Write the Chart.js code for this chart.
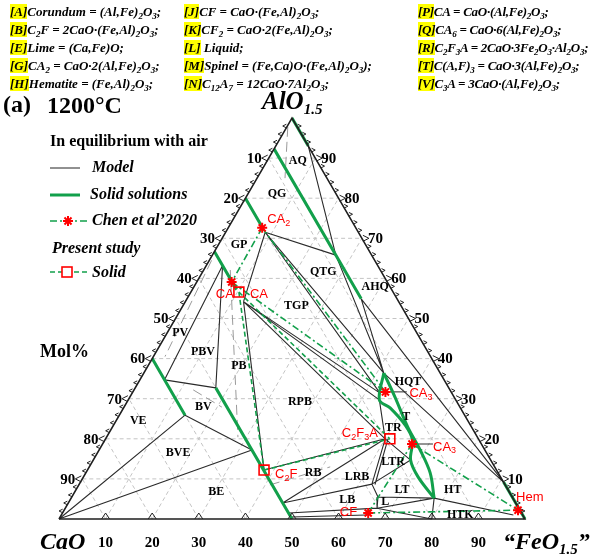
<!DOCTYPE html>
<html><head><meta charset="utf-8">
<script src="https://cdn.jsdelivr.net/npm/chart.js@4/dist/chart.umd.min.js"></script>
<style>
html,body{margin:0;padding:0;background:#fff;}
#wrap{position:relative;width:591px;height:556px;overflow:hidden;background:#fff;}
canvas{position:absolute;left:0;top:0;}
.hdr{position:absolute;font:italic bold 13px "Liberation Serif",serif;white-space:nowrap;color:#000;line-height:16px;}
.hdr.c3{letter-spacing:-0.25px;}
.hdr b{background:#ffff00;}
.hdr sub{font-size:9px;vertical-align:-3px;line-height:0;}
</style></head><body>
<div id="wrap">
<canvas id="c" width="591" height="556"></canvas>
<div class="hdr" style="left:10px;top:4px"><b>[A]</b>Corundum = (Al,Fe)<sub>2</sub>O<sub>3</sub>;</div>
<div class="hdr" style="left:10px;top:22px"><b>[B]</b>C<sub>2</sub>F = 2CaO·(Fe,Al)<sub>2</sub>O<sub>3</sub>;</div>
<div class="hdr" style="left:10px;top:40px"><b>[E]</b>Lime = (Ca,Fe)O;</div>
<div class="hdr" style="left:10px;top:58px"><b>[G]</b>CA<sub>2</sub> = CaO·2(Al,Fe)<sub>2</sub>O<sub>3</sub>;</div>
<div class="hdr" style="left:10px;top:76px"><b>[H]</b>Hematite = (Fe,Al)<sub>2</sub>O<sub>3</sub>;</div>
<div class="hdr" style="left:184px;top:4px"><b>[J]</b>CF = CaO·(Fe,Al)<sub>2</sub>O<sub>3</sub>;</div>
<div class="hdr" style="left:184px;top:22px"><b>[K]</b>CF<sub>2</sub> = CaO·2(Fe,Al)<sub>2</sub>O<sub>3</sub>;</div>
<div class="hdr" style="left:184px;top:40px"><b>[L]</b> Liquid;</div>
<div class="hdr" style="left:184px;top:58px"><b>[M]</b>Spinel = (Fe,Ca)O·(Fe,Al)<sub>2</sub>O<sub>3</sub>);</div>
<div class="hdr" style="left:184px;top:76px"><b>[N]</b>C<sub>12</sub>A<sub>7</sub> = 12CaO·7Al<sub>2</sub>O<sub>3</sub>;</div>
<div class="hdr c3" style="left:418px;top:4px"><b>[P]</b>CA = CaO·(Al,Fe)<sub>2</sub>O<sub>3</sub>;</div>
<div class="hdr c3" style="left:418px;top:22px"><b>[Q]</b>CA<sub>6</sub> = CaO·6(Al,Fe)<sub>2</sub>O<sub>3</sub>;</div>
<div class="hdr c3" style="left:418px;top:40px"><b>[R]</b>C<sub>2</sub>F<sub>3</sub>A = 2CaO·3Fe<sub>2</sub>O<sub>3</sub>·Al<sub>2</sub>O<sub>3</sub>;</div>
<div class="hdr c3" style="left:418px;top:58px"><b>[T]</b>C(A,F)<sub>3</sub> = CaO·3(Al,Fe)<sub>2</sub>O<sub>3</sub>;</div>
<div class="hdr c3" style="left:418px;top:76px"><b>[V]</b>C<sub>3</sub>A = 3CaO·(Al,Fe)<sub>2</sub>O<sub>3</sub>;</div>
</div>
<script>
// Compositions are given as [FeO1.5 mol%, AlO1.5 mol%]; CaO is the remainder.
const steps = [10, 20, 30, 40, 50, 60, 70, 80, 90];
const tickText = ['10', '20', '30', '40', '50', '60', '70', '80', '90'];

// Solid-solution ranges
const corundumSS = [[0, 100], [7, 93]];
const ca6SS = [[0, 92.3], [37.4, 54.9]];
const ca2SS = [[0, 80], [7.5, 72.5]];
const caSS = [[0, 66.7], [9.5, 57.2]];
const c3aSS = [[0, 40], [14.1, 25.9]];
const c2fSS = [[17.3, 32.7], [50, 0]];
const hematiteSS = [[90.8, 9.2], [100, 0]];
const tOuter = [[51.5, 36.4], [56.9, 30.4], [63.4, 22.9], [68.9, 17.2], [73.9, 11.5], [77.9, 5.2]];
const tInner = [[51.5, 36.4], [53.9, 29.7], [57.2, 27.7], [62.6, 23.4], [66.0, 19.7], [68.1, 14.7], [71.8, 10.5], [77.9, 5.2]];

// Calculated phase boundaries (model)
const modelLines = [
  [[7, 93], [26.5, 65.8]],
  [[8.5, 71.5], [26.5, 65.8]],
  [[26.5, 65.8], [51.5, 36.4]],
  [[37.4, 54.9], [51.5, 36.4]],
  [[37.4, 54.9], [90.8, 9.2]],
  [[51.5, 36.4], [90.8, 9.2]],
  [[8.5, 71.5], [51.5, 36.4]],
  [[8.5, 71.5], [53.4, 31.2]],
  [[8.5, 71.5], [12.5, 54.2]],
  [[12.5, 54.2], [53.2, 31.4]],
  [[12.5, 54.2], [53.9, 29.7]],
  [[12.5, 54.2], [60, 20]],
  [[60, 20], [53.9, 29.7]],
  [[60, 20], [68.1, 14.7]],
  [[3.5, 63.2], [5.3, 34.7]],
  [[3.5, 63.2], [17.3, 32.7]],
  [[5.3, 34.7], [17.3, 32.7]],
  [[14.1, 25.9], [32.8, 17.2]],
  [[0, 0], [14.1, 25.9]],
  [[0, 0], [32.8, 17.2]],
  [[12.5, 54.2], [37.9, 12.2]],
  [[37.9, 12.2], [60, 20]],
  [[46, 4], [60, 20]],
  [[46, 4], [62.8, 8.7]],
  [[60, 20], [62.8, 8.7]],
  [[60.6, 20], [63.5, 8.6]],
  [[62.8, 8.7], [65.7, 5.5], [66.9, 2.7]],
  [[48.5, 1.5], [66.9, 2.7]],
  [[49.5, 0.5], [65.5, 1.0]],
  [[62.8, 8.7], [68.1, 14.7]],
  [[65.7, 5.5], [77.9, 5.2]],
  [[66.9, 2.7], [80, 0]],
  [[66.9, 2.7], [77.9, 5.2]],
  [[77.9, 5.2], [80, 0]],
  [[77.9, 5.2], [97, 1]]
];
const earlierLines = [
  [[0.2, 97.8], [6, 85]],
  [[0.5, 64.5], [2.5, 40.5]],
  [[5.7, 62.1], [28.2, 20.4]],
  [[12.7, 32.2], [21, 27.9]],
  [[41, 8.5], [51.7, 13]]
];
const labelLeaders = [
  [[54.2, 31.7], [58.8, 31.7]],
  [[66.4, 18.7], [70.9, 18.7]]
];

// Chen et al. 2020: measured phases and tie-lines
const chenPoints = [[7.3, 72.6], [7.5, 59.1], [54.2, 31.7], [66.4, 18.7], [65.6, 1.5], [97.4, 2.2]];
const chenTies = [
  [[7.3, 72.6], [7.5, 59.1]],
  [[7.3, 72.6], [54.2, 31.7]],
  [[7.5, 59.1], [54.2, 31.7]],
  [[66.4, 18.7], [97.4, 2.2]],
  [[65.6, 1.5], [66.4, 18.7]],
  [[65.6, 1.5], [97.4, 2.2]]
];
// Present study: measured solids and tie-lines
const presentPoints = [[10.3, 56.6], [37.9, 12.2], [61, 20]];
const presentTies = [
  [[10.3, 56.6], [37.9, 12.2]],
  [[37.9, 12.2], [61, 20]],
  [[10.3, 56.6], [61, 20]]
];

const regionLabels = [
  ['AQ', 6.6, 89.3], ['QG', 6.3, 81], ['GP', 4.5, 68.3], ['QTG', 25.9, 61.6], ['AHQ', 38.9, 57.9],
  ['TGP', 24.4, 53.1], ['PV', 2.8, 46.4], ['PBV', 10.1, 41.6], ['PB', 19.5, 38.2], ['BV', 17, 27.9],
  ['VE', 4.8, 24.4], ['RPB', 37.1, 29.2], ['BVE', 17.3, 16.5], ['BE', 30.4, 6.7], ['RB', 48.8, 11.5],
  ['LRB', 58.7, 10.5], ['LB', 59.5, 4.7], ['L', 67.9, 4.2], ['LT', 70, 7.2], ['LTR', 64.6, 14.2],
  ['TR', 60.4, 22.7], ['T', 61.8, 25.4], ['HQT', 57.8, 34.2], ['HT', 80.9, 7.2], ['HTK', 85.6, 1.0]
];
const phaseTags = [
  {text: 'CA{2}', at: [7.3, 72.6], dx: 5, dy: -8, align: 'left'},
  {text: 'CA', at: [10.3, 56.6], dx: -5, dy: 2, align: 'right'},
  {text: 'CA', at: [10.3, 56.6], dx: 11, dy: 2, align: 'left'},
  {text: 'CA{3}', at: [54.2, 31.7], dx: 24, dy: 2, align: 'left'},
  {text: 'C{2}F{3}A', at: [61, 20], dx: -12, dy: -5, align: 'right'},
  {text: 'CA{3}', at: [66.4, 18.7], dx: 21, dy: 3, align: 'left'},
  {text: 'C{2}F', at: [37.9, 12.2], dx: 11, dy: 4, align: 'left'},
  {text: 'CF', at: [65.6, 1.5], dx: -11, dy: -1, align: 'right'},
  {text: 'Hem', at: [97.4, 2.2], dx: -2, dy: -13, align: 'left'}
];

const GREEN = '#12a04b';
const RED = '#ff0000';

const toXY = p => ({x: p[0] + p[1] / 2, y: p[1]});
function joinSegments(list) {
  const out = [];
  list.forEach((seg, i) => {
    if (i) out.push({x: NaN, y: NaN});
    seg.forEach(p => out.push(toXY(p)));
  });
  return out;
}
function lineSet(list, color, width, dash, order, tension) {
  return {
    data: joinSegments(list), showLine: true, borderColor: color, borderWidth: width,
    borderDash: dash || [], pointRadius: 0, pointHoverRadius: 0, fill: false,
    spanGaps: false, clip: false, order: order, tension: tension || 0, borderCapStyle: 'butt'
  };
}

const gridSegs = [];
steps.forEach(v => {
  gridSegs.push([[0, v], [100 - v, v]]);
  gridSegs.push([[v, 0], [v, 100 - v]]);
  gridSegs.push([[100 - v, 0], [0, 100 - v]]);
});
const border = [[[0, 0], [100, 0], [0, 100], [0, 0]]];

function rich(ctx, text, x, y, align, font, subFont, subShift) {
  const parts = [];
  text.replace(/\{([^}]*)\}|([^{]+)/g, (m, s, n) => { parts.push(s !== undefined ? {t: s, s: true} : {t: n, s: false}); return m; });
  let w = 0;
  parts.forEach(p => { ctx.font = p.s ? subFont : font; w += ctx.measureText(p.t).width; });
  let cx = align === 'right' ? x - w : align === 'center' ? x - w / 2 : x;
  ctx.textAlign = 'left';
  ctx.textBaseline = 'middle';
  parts.forEach(p => {
    ctx.font = p.s ? subFont : font;
    ctx.fillText(p.t, cx, y + (p.s ? subShift : 0));
    cx += ctx.measureText(p.t).width;
  });
}
function starMark(ctx, x, y, r) {
  ctx.beginPath();
  for (let k = 0; k < 4; k++) {
    const ang = k * Math.PI / 4;
    ctx.moveTo(x - r * Math.cos(ang), y - r * Math.sin(ang));
    ctx.lineTo(x + r * Math.cos(ang), y + r * Math.sin(ang));
  }
  ctx.stroke();
}

const annotate = {
  id: 'annotate',
  afterDraw(chart) {
    const ctx = chart.ctx;
    const xs = chart.scales.x, ys = chart.scales.y;
    const px = (f, a) => [xs.getPixelForValue(f + a / 2), ys.getPixelForValue(a)];
    ctx.save();
    ctx.fillStyle = '#000';
    ctx.strokeStyle = '#222';
    ctx.lineWidth = 1;

    // edge ticks
    for (let v = 2; v < 100; v += 2) {
      const major = v % 10 === 0;
      const s = major ? 1 : 0.6;
      // left edge (CaO)
      let [x, y] = px(0, 100 - v);
      ctx.beginPath();
      ctx.moveTo(x - 1, y - 3 * s); ctx.lineTo(x - 6 * s - 1, y); ctx.lineTo(x - 1, y + 3 * s);
      ctx.stroke();
      // right edge (AlO1.5)
      [x, y] = px(100 - v, v);
      ctx.beginPath();
      ctx.moveTo(x + 1, y - 3 * s); ctx.lineTo(x + 6 * s + 1, y); ctx.lineTo(x + 1, y + 3 * s);
      ctx.stroke();
      if (major) {
        [x, y] = px(v, 0);
        ctx.beginPath();
        ctx.moveTo(x - 4, y); ctx.lineTo(x, y - 6); ctx.lineTo(x + 4, y);
        ctx.stroke();
      }
    }
    // tick labels
    ctx.font = 'bold 15px "Liberation Serif", serif';
    ctx.textBaseline = 'middle';
    steps.forEach((v, i) => {
      let [x, y] = px(v, 0);
      ctx.textAlign = 'center';
      ctx.fillText(tickText[i], x, y + 24);
      [x, y] = px(0, 100 - v);
      ctx.textAlign = 'right';
      ctx.fillText(tickText[i], x - 7, y + 1);
      [x, y] = px(100 - v, v);
      ctx.textAlign = 'left';
      ctx.fillText(tickText[i], x + 6, y + 1);
    });

    // phase-field labels
    ctx.font = 'bold 12px "Liberation Serif", serif';
    ctx.textAlign = 'center';
    regionLabels.forEach(r => {
      const [x, y] = px(r[1], r[2]);
      ctx.fillText(r[0], x, y);
    });

    // phase tags
    ctx.fillStyle = RED;
    phaseTags.forEach(t => {
      const [x, y] = px(t.at[0], t.at[1]);
      rich(ctx, t.text, x + t.dx, y + t.dy, t.align, '13px "Liberation Sans", sans-serif', '9px "Liberation Sans", sans-serif', 4);
    });

    // titles and corner names
    ctx.fillStyle = '#000';
    ctx.textBaseline = 'middle';
    ctx.textAlign = 'left';
    ctx.font = 'bold 24px "Liberation Serif", serif';
    ctx.fillText('(a)', 3, 106);
    ctx.fillText('1200°C', 47, 107);
    rich(ctx, 'AlO{1.5}', 262, 103, 'left', 'italic bold 25px "Liberation Serif", serif', 'italic bold 15px "Liberation Serif", serif', 7);
    rich(ctx, 'CaO', 40, 543, 'left', 'italic bold 24px "Liberation Serif", serif', 'italic bold 15px "Liberation Serif", serif', 7);
    rich(ctx, '“FeO{1.5}”', 503, 543, 'left', 'italic bold 24px "Liberation Serif", serif', 'italic bold 15px "Liberation Serif", serif', 7);
    ctx.font = 'bold 18px "Liberation Serif", serif';
    ctx.fillText('Mol%', 40, 352);

    // legend
    ctx.font = 'bold 16px "Liberation Serif", serif';
    ctx.fillText('In equilibrium with air', 50, 142);
    ctx.font = 'italic bold 16px "Liberation Serif", serif';
    ctx.fillText('Model', 92, 168);
    ctx.fillText('Solid solutions', 90, 195);
    ctx.fillText('Chen et al’2020', 92, 221);
    ctx.fillText('Present study', 52, 249);
    ctx.fillText('Solid', 92, 273);

    ctx.strokeStyle = '#222'; ctx.lineWidth = 1;
    ctx.beginPath(); ctx.moveTo(50, 168); ctx.lineTo(80, 168); ctx.stroke();
    ctx.strokeStyle = GREEN; ctx.lineWidth = 3;
    ctx.beginPath(); ctx.moveTo(50, 195); ctx.lineTo(80, 195); ctx.stroke();
    ctx.lineWidth = 1.6; ctx.setLineDash([7, 3, 2, 3]);
    ctx.beginPath(); ctx.moveTo(50, 221); ctx.lineTo(88, 221); ctx.stroke();
    ctx.setLineDash([5, 3]);
    ctx.beginPath(); ctx.moveTo(50, 272); ctx.lineTo(88, 272); ctx.stroke();
    ctx.setLineDash([]);
    ctx.strokeStyle = RED; ctx.lineWidth = 2;
    starMark(ctx, 68, 221, 5);
    ctx.lineWidth = 1.6;
    ctx.fillStyle = '#fff';
    ctx.fillRect(62, 267, 10, 10);
    ctx.strokeRect(62, 267, 10, 10);
    ctx.restore();
  }
};

new Chart(document.getElementById('c'), {
  type: 'scatter',
  data: {
    datasets: [
      lineSet(gridSegs, '#c4c4c4', 1, [4, 3], 100),
      lineSet(earlierLines, '#9a9a9a', 1, [10, 5], 90),
      lineSet(modelLines, '#2a2a2a', 1.1, [], 80),
      lineSet(labelLeaders, '#2a2a2a', 1, [], 80),
      lineSet([corundumSS, ca6SS, ca2SS, caSS, c3aSS, c2fSS, hematiteSS], GREEN, 3, [], 60),
      lineSet([tOuter], GREEN, 3, [], 60, 0.35),
      lineSet([tInner], GREEN, 3, [], 60, 0.35),
      lineSet(chenTies, GREEN, 1.6, [7, 3, 2, 3], 50),
      lineSet(presentTies, GREEN, 1.6, [5, 3], 50),
      lineSet(border, '#1e1e1e', 1.5, [], 40),
      {
        data: chenPoints.map(toXY), showLine: false, pointStyle: 'star', pointRadius: 5,
        pointHoverRadius: 5, borderColor: RED, borderWidth: 2, backgroundColor: RED, clip: false, order: 1
      },
      {
        data: presentPoints.map(toXY), showLine: false, pointStyle: 'rect', pointRadius: 7,
        pointHoverRadius: 7, borderColor: RED, borderWidth: 1.6, backgroundColor: 'rgba(255,255,255,0)', clip: false, order: 0
      }
    ]
  },
  options: {
    responsive: false, animation: false, devicePixelRatio: 1,
    layout: {padding: {left: 59, right: 66, top: 118, bottom: 37}},
    scales: {
      x: {type: 'linear', min: 0, max: 100, display: false},
      y: {type: 'linear', min: 0, max: 100, display: false}
    },
    plugins: {legend: {display: false}, tooltip: {enabled: false}},
    events: []
  },
  plugins: [annotate]
});
</script>
</body></html>
